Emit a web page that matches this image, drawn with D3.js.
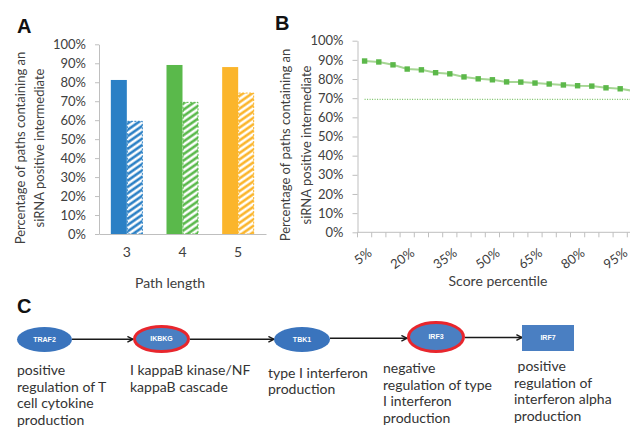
<!DOCTYPE html>
<html>
<head>
<meta charset="utf-8">
<script src="https://cdn.jsdelivr.net/npm/d3@7"></script>
<style>
	body { margin: 0; background: #fff; }
	svg { display: block; }
</style>
</head>
<body>
<div id="chart"></div>
<script>
//data
const pathLengths = ['3', '4', '5'];
const allPaths = [81.2, 89.1, 88.0];
const siRNAPaths = [59.4, 69.4, 74.3];
const pctTicks = [0, 10, 20, 30, 40, 50, 60, 70, 80, 90, 100];

const percentiles = ['5%', '10%', '15%', '20%', '25%', '30%', '35%', '40%', '45%', '50%',
	'55%', '60%', '65%', '70%', '75%', '80%', '85%', '90%', '95%', '100%'];
const scorePaths = [89.4, 88.9, 87.4, 85.2, 84.8, 83.3, 82.7, 81.1, 80.1, 79.6,
	78.5, 78.4, 77.9, 77.4, 76.9, 76.5, 76.3, 75.4, 74.9, 73.7];
const shownPercentiles = ['5%', '20%', '35%', '50%', '65%', '80%', '95%'];
const baseline = 69.4;

const genes = ['TRAF2', 'IKBKG', 'TBK1', 'IRF3', 'IRF7'];
const flagged = [false, true, false, true, false];
const terms = [
	['positive', 'regulation of T', 'cell cytokine', 'production'],
	['I kappaB kinase/NF', 'kappaB cascade'],
	['type I interferon', 'production'],
	['negative', 'regulation of type', 'I interferon', 'production'],
	['\u00a0positive', 'regulation of', 'interferon alpha', 'production'],
];

const width = 630;
const height = 427;
const barColors = ['#2b80c5', '#5ab94b', '#fbb52b'];
const axisColor = '#bfbfbf';
const fontColor = '#404040';
const font = 'Lato, "Open Sans", sans-serif';

const svg = d3.select('#chart').append('svg')
	.attr('width', width)
	.attr('height', height);

const defs = svg.append('defs');
barColors.forEach((c, i) => {
	let p = defs.append('pattern')
		.attr('id', 'hatch' + i)
		.attr('patternUnits', 'userSpaceOnUse')
		.attr('width', 6)
		.attr('height', 5.2)
		.attr('patternTransform', 'rotate(-35)');
	p.append('rect').attr('width', 6).attr('height', 5.2).attr('fill', '#fff');
	p.append('rect').attr('y', 1.4).attr('width', 6).attr('height', 2.6).attr('fill', c);
});

defs.append('marker')
	.attr('id', 'arrow')
	.attr('viewBox', '0 0 10 10')
	.attr('refX', 9)
	.attr('refY', 5)
	.attr('markerWidth', 7)
	.attr('markerHeight', 7)
	.attr('markerUnits', 'userSpaceOnUse')
	.attr('orient', 'auto')
	.append('path')
	.attr('d', 'M1,1 L9,5 L1,9')
	.attr('fill', 'none')
	.attr('stroke', '#1a1a1a')
	.attr('stroke-width', 2);

function styleAxis(g) {
	g.select('.domain').attr('stroke', axisColor);
	g.selectAll('.tick line').attr('stroke', axisColor);
	g.selectAll('.tick text')
		.attr('fill', fontColor)
		.attr('font-family', font)
		.attr('font-size', 13);
}

function panelLetter(t, x, y) {
	svg.append('text')
		.attr('x', x).attr('y', y)
		.attr('font-family', '"Liberation Sans", Arial, sans-serif')
		.attr('font-weight', 'bold')
		.attr('font-size', 20)
		.attr('fill', '#111')
		.text(t);
}

function yTitle(x, cy, gap) {
	let t = svg.append('text')
		.attr('transform', translation(x, cy) + ' rotate(-90)')
		.attr('text-anchor', 'middle')
		.attr('font-family', font)
		.attr('font-size', 13)
		.attr('fill', fontColor);
	t.append('tspan').attr('x', 0).attr('y', 0).text('Percentage of paths containing an');
	t.append('tspan').attr('x', 0).attr('y', gap).text('siRNA positive intermediate');
}

//panel A
panelLetter('A', 17, 33);
yTitle(25, 148, 18.5);

const xA = d3.scaleBand().domain(pathLengths).range([99, 266])
	.paddingInner(0.425).paddingOuter(0.2125);
const xA1 = d3.scaleBand().domain([0, 1]).range([0, xA.bandwidth()]);
const yA = d3.scaleLinear().domain([0, 100]).range([234, 44.3]);

svg.append('g')
	.attr('transform', translation(99, 0))
	.call(d3.axisLeft(yA).tickValues(pctTicks).tickFormat(d => d + '%')
		.tickSizeInner(4).tickSizeOuter(0).tickPadding(9))
	.call(styleAxis);

const barsA = svg.append('g');
barsA.selectAll('.bar-all').data(allPaths).join('rect')
	.attr('class', 'bar-all')
	.attr('x', (d, i) => xA(pathLengths[i]) + xA1(0))
	.attr('y', d => yA(d))
	.attr('width', xA1.bandwidth())
	.attr('height', d => yA(0) - yA(d))
	.attr('fill', (d, i) => barColors[i]);

barsA.selectAll('.bar-si').data(siRNAPaths).join('rect')
	.attr('class', 'bar-si')
	.attr('x', (d, i) => xA(pathLengths[i]) + xA1(1) + 0.5)
	.attr('y', d => yA(d))
	.attr('width', xA1.bandwidth() - 1)
	.attr('height', d => yA(0) - yA(d))
	.attr('fill', (d, i) => `url(#hatch${i})`)
	.attr('stroke', (d, i) => barColors[i])
	.attr('stroke-width', 1)
	.attr('stroke-dasharray', '2,1.5');

svg.append('g')
	.attr('transform', translation(0, 234))
	.call(d3.axisBottom(xA).tickSize(0).tickSizeOuter(0).tickPadding(13))
	.call(styleAxis)
	.call(g => g.selectAll('.tick text').attr('font-size', 14));

svg.append('text')
	.attr('x', 170).attr('y', 288)
	.attr('text-anchor', 'middle')
	.attr('font-family', font)
	.attr('font-size', 14)
	.attr('fill', fontColor)
	.text('Path length');

//panel B
panelLetter('B', 275, 30);
yTitle(289.5, 145, 21);

const xB = d3.scaleBand().domain(percentiles).range([357.5, 641.5]);
const yB = d3.scaleLinear().domain([0, 100]).range([232.3, 40.7]);
const cx = d => xB(d) + xB.bandwidth() / 2;

svg.append('g')
	.attr('transform', translation(357.5, 0))
	.call(d3.axisLeft(yB).tickValues(pctTicks).tickFormat(d => d + '%')
		.tickSizeInner(5).tickSizeOuter(0).tickPadding(9))
	.call(styleAxis);

const xAxisB = svg.append('g').attr('transform', translation(0, 232.3));
xAxisB.append('line')
	.attr('x1', 357.5).attr('x2', 641.5)
	.attr('stroke', axisColor);
xAxisB.selectAll('.tk').data(percentiles).join('line')
	.attr('class', 'tk')
	.attr('x1', d => xB(d)).attr('x2', d => xB(d))
	.attr('y1', 0).attr('y2', 5)
	.attr('stroke', axisColor);
xAxisB.selectAll('.lbl').data(shownPercentiles).join('text')
	.attr('class', 'lbl')
	.attr('transform', d => translation(cx(d) + 3, 15) + ' rotate(-35)')
	.attr('text-anchor', 'end')
	.attr('dy', '0.71em')
	.attr('font-family', font)
	.attr('font-size', 13)
	.attr('fill', fontColor)
	.text(d => d);

svg.append('text')
	.attr('x', 498).attr('y', 286)
	.attr('text-anchor', 'middle')
	.attr('font-family', font)
	.attr('font-size', 14)
	.attr('fill', fontColor)
	.text('Score percentile');

svg.append('line')
	.attr('x1', cx(percentiles[0])).attr('x2', 641.5)
	.attr('y1', yB(baseline)).attr('y2', yB(baseline))
	.attr('stroke', '#7cc468')
	.attr('stroke-width', 1.2)
	.attr('stroke-dasharray', '1,1.5');

const line = d3.line()
	.x((d, i) => cx(percentiles[i]))
	.y(d => yB(d));

svg.append('path')
	.datum(scorePaths)
	.attr('d', line)
	.attr('fill', 'none')
	.attr('stroke', '#a6d694')
	.attr('stroke-width', 2);

svg.append('g').selectAll('rect').data(scorePaths).join('rect')
	.attr('x', (d, i) => cx(percentiles[i]) - 2.7)
	.attr('y', d => yB(d) - 2.7)
	.attr('width', 5.4)
	.attr('height', 5.4)
	.attr('fill', '#5cb84a');

//panel C
panelLetter('C', 17, 313);

const nodeX = [44.5, 161.5, 302, 436, 548];
const nodeY = [339.5, 339, 339.5, 337, 338];
const nodeRx = [27.5, 27, 28, 27.5, 26];
const nodeRy = [12.5, 12.5, 12.5, 14.5, 13];
const textY = [375, 375, 377.5, 373, 371];
const textX = [17, 130, 268, 383, 514];

const edges = d3.pairs(d3.range(genes.length));
svg.append('g').selectAll('line').data(edges).join('line')
	.attr('x1', ([a]) => nodeX[a] + nodeRx[a] + (flagged[a] ? 1.5 : 0))
	.attr('x2', ([, b]) => nodeX[b] - nodeRx[b] - (flagged[b] ? 1.5 : 0))
	.attr('y1', ([a, b]) => (nodeY[a] + nodeY[b]) / 2)
	.attr('y2', ([a, b]) => (nodeY[a] + nodeY[b]) / 2)
	.attr('stroke', '#1a1a1a')
	.attr('stroke-width', 1.6)
	.attr('marker-end', 'url(#arrow)');

const nodes = svg.append('g').selectAll('g').data(genes).join('g')
	.attr('transform', (d, i) => translation(nodeX[i], nodeY[i]));

nodes.each(function (d, i) {
	let g = d3.select(this);
	if (i === genes.length - 1) {
		g.append('rect')
			.attr('x', -nodeRx[i]).attr('y', -nodeRy[i])
			.attr('width', nodeRx[i] * 2).attr('height', nodeRy[i] * 2)
			.attr('fill', '#4a7fc2');
	} else {
		g.append('ellipse')
			.attr('rx', nodeRx[i]).attr('ry', nodeRy[i])
			.attr('fill', flagged[i] ? '#4a7fc2' : '#3a74bd')
			.attr('stroke', flagged[i] ? '#e8262d' : 'none')
			.attr('stroke-width', 3);
	}
	g.append('text')
		.attr('text-anchor', 'middle')
		.attr('dy', '0.35em')
		.attr('font-family', '"Liberation Sans", Arial, sans-serif')
		.attr('font-weight', 'bold')
		.attr('font-size', 7)
		.attr('fill', '#fff')
		.text(d);
});

svg.append('g').selectAll('text').data(terms).join('text')
	.attr('font-family', font)
	.attr('font-size', 14)
	.attr('fill', '#333')
	.each(function (lines, i) {
		d3.select(this).selectAll('tspan').data(lines).join('tspan')
			.attr('x', textX[i])
			.attr('y', (l, j) => textY[i] + j * 16.7)
			.text(l => l);
	});

//utils
function translation(x, y) {
	return `translate(${x}, ${y})`;
}
</script>
</body>
</html>
